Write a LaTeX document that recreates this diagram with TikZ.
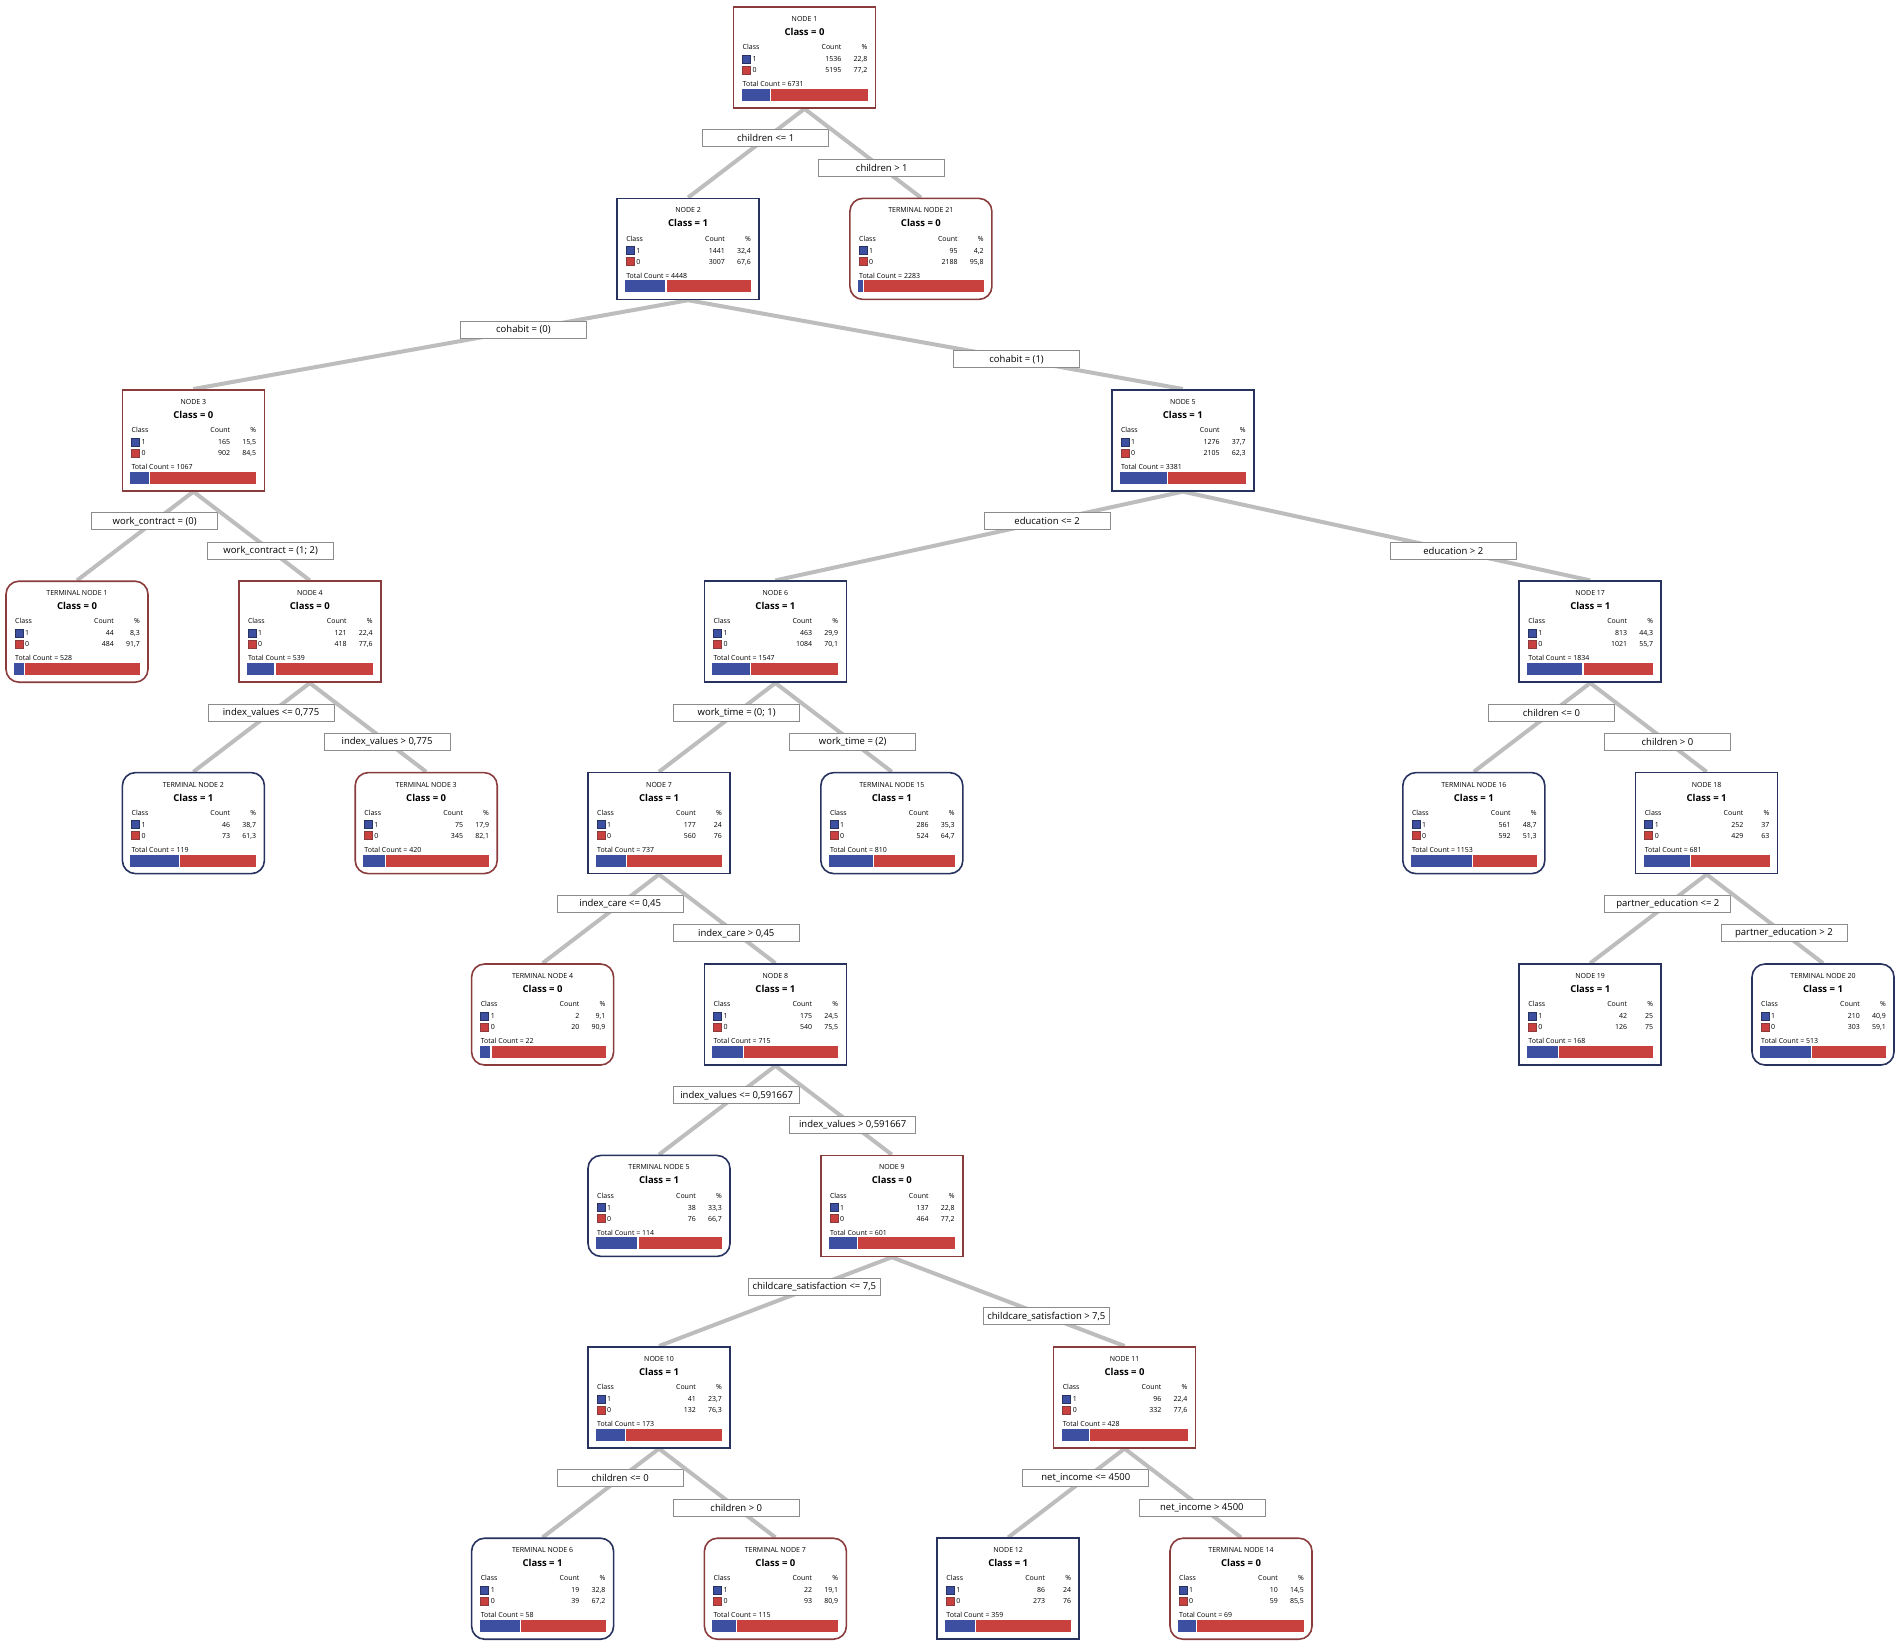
\documentclass[tikz,border=0pt]{standalone}
\usepackage{fontspec}
\setmainfont{Open Sans}
\pgfdeclarelayer{bg}
\pgfsetlayers{bg,main}
\definecolor{bluebd}{HTML}{27325E}
\definecolor{redbd}{HTML}{8A3C3C}
\definecolor{bluefill}{HTML}{3C4FA0}
\definecolor{redfill}{HTML}{C9413F}
\definecolor{edgegray}{HTML}{BDBDBD}
\definecolor{lblgray}{HTML}{8C8C8C}
\tikzset{
 box/.style={draw, line width=1.6pt, minimum width=142pt, minimum height=101pt, inner sep=0pt, fill=white},
 cls0/.style={draw=redbd},
 cls1/.style={draw=bluebd},
 term/.style={rounded corners=13pt},
 intl/.style={sharp corners},
 ttl/.style={font=\fontsize{7}{8}\selectfont, inner sep=0pt},
 clsty/.style={font=\fontsize{9.5}{10}\selectfont\bfseries, inner sep=0pt},
 sm/.style={font=\fontsize{7}{8}\selectfont, inner sep=0pt},
 lbl/.style={draw=lblgray, fill=white, line width=0.8pt, minimum width=126pt, minimum height=17pt, inner xsep=4pt, inner ysep=1pt, font=\fontsize{9.5}{10}\selectfont, text=black},
 edge/.style={draw=edgegray, line width=4pt},
 sq1/.style={fill=bluefill, draw=bluebd, line width=0.4pt},
 sq0/.style={fill=redfill, draw=redbd, line width=0.4pt},
}
\newcommand\gennode[9]{%
 \pgfmathsetmacro\xl{6+#2*116.4}%
 \pgfmathsetmacro\yt{7+#3*191.4}%
 \pgfmathtruncatemacro\tot{#6+#8}%
 \pgfmathsetmacro\bx{8+126*(#6/\tot)}%
 \node[box,cls#5,cornerst] (#1) at (\xl+71,\yt+50.5) {};
 \node[ttl] (#1-ti) at (\xl+71,\yt+12) {#4};
 \node[clsty] (#1-cl) at (\xl+71,\yt+25) {Class = #5};
 \node[sm,anchor=mid west] (#1-h1) at (\xl+9,\yt+40) {Class};
 \node[sm,anchor=mid east] (#1-h2) at (\xl+108,\yt+40) {Count};
 \node[sm,anchor=mid east] (#1-h3) at (\xl+134,\yt+40) {\%};
 \path[sq1] (\xl+9,\yt+48) rectangle (\xl+17,\yt+56);
 \node[sm,anchor=mid west] (#1-k1) at (\xl+19,\yt+52) {1};
 \node[sm,anchor=mid east] (#1-n1) at (\xl+108,\yt+52) {#6};
 \node[sm,anchor=mid east] (#1-p1) at (\xl+134,\yt+52) {#7};
 \path[sq0] (\xl+9,\yt+59) rectangle (\xl+17,\yt+67);
 \node[sm,anchor=mid west] (#1-k0) at (\xl+19,\yt+63) {0};
 \node[sm,anchor=mid east] (#1-n0) at (\xl+108,\yt+63) {#8};
 \node[sm,anchor=mid east] (#1-p0) at (\xl+134,\yt+63) {#9};
 \node[sm,anchor=mid west] (#1-to) at (\xl+9,\yt+77) {Total Count = \tot};
 \path[fill=bluefill] (\xl+8,\yt+82) rectangle (\xl+\bx-0.6,\yt+94);
 \path[fill=redfill] (\xl+\bx+0.6,\yt+82) rectangle (\xl+134,\yt+94);
}
\newcommand\InNode{\tikzset{cornerst/.style={intl}}\gennode}
\newcommand\TeNode{\tikzset{cornerst/.style={term}}\gennode}
\newcommand\conn[5]{\draw[edge] (#1.south) -- node[lbl,pos=#3] (#4) {#5} (#2.north);}
\begin{document}
\begin{tikzpicture}[x=1pt,y=-1pt]
\useasboundingbox (0,0) rectangle (1902,1649);
\InNode{n1}{6.25}{0}{NODE 1}{0}{1536}{22,8}{5195}{77,2}
\InNode{n2}{5.25}{1}{NODE 2}{1}{1441}{32,4}{3007}{67,6}
\TeNode{t21}{7.25}{1}{TERMINAL NODE 21}{0}{95}{4,2}{2188}{95,8}
\InNode{n3}{1}{2}{NODE 3}{0}{165}{15,5}{902}{84,5}
\InNode{n5}{9.5}{2}{NODE 5}{1}{1276}{37,7}{2105}{62,3}
\TeNode{t1}{0}{3}{TERMINAL NODE 1}{0}{44}{8,3}{484}{91,7}
\InNode{n4}{2}{3}{NODE 4}{0}{121}{22,4}{418}{77,6}
\InNode{n6}{6}{3}{NODE 6}{1}{463}{29,9}{1084}{70,1}
\InNode{n17}{13}{3}{NODE 17}{1}{813}{44,3}{1021}{55,7}
\TeNode{t2}{1}{4}{TERMINAL NODE 2}{1}{46}{38,7}{73}{61,3}
\TeNode{t3}{3}{4}{TERMINAL NODE 3}{0}{75}{17,9}{345}{82,1}
\InNode{n7}{5}{4}{NODE 7}{1}{177}{24}{560}{76}
\TeNode{t15}{7}{4}{TERMINAL NODE 15}{1}{286}{35,3}{524}{64,7}
\TeNode{t16}{12}{4}{TERMINAL NODE 16}{1}{561}{48,7}{592}{51,3}
\InNode{n18}{14}{4}{NODE 18}{1}{252}{37}{429}{63}
\TeNode{t4}{4}{5}{TERMINAL NODE 4}{0}{2}{9,1}{20}{90,9}
\InNode{n8}{6}{5}{NODE 8}{1}{175}{24,5}{540}{75,5}
\InNode{n19}{13}{5}{NODE 19}{1}{42}{25}{126}{75}
\TeNode{t20}{15}{5}{TERMINAL NODE 20}{1}{210}{40,9}{303}{59,1}
\TeNode{t5}{5}{6}{TERMINAL NODE 5}{1}{38}{33,3}{76}{66,7}
\InNode{n9}{7}{6}{NODE 9}{0}{137}{22,8}{464}{77,2}
\InNode{n10}{5}{7}{NODE 10}{1}{41}{23,7}{132}{76,3}
\InNode{n11}{9}{7}{NODE 11}{0}{96}{22,4}{332}{77,6}
\TeNode{t6}{4}{8}{TERMINAL NODE 6}{1}{19}{32,8}{39}{67,2}
\TeNode{t7}{6}{8}{TERMINAL NODE 7}{0}{22}{19,1}{93}{80,9}
\InNode{n12}{8}{8}{NODE 12}{1}{86}{24}{273}{76}
\TeNode{t14}{10}{8}{TERMINAL NODE 14}{0}{10}{14,5}{59}{85,5}
\begin{pgfonlayer}{bg}
\fill[white] (0,0) rectangle (1902,1649);
\conn{n1}{n2}{0.333}{l1a}{children <= 1}
\conn{n1}{t21}{0.664}{l1b}{children > 1}
\conn{n2}{n3}{0.333}{l2a}{cohabit = (0)}
\conn{n2}{n5}{0.664}{l2b}{cohabit = (1)}
\conn{n3}{t1}{0.333}{l3a}{work\_contract = (0)}
\conn{n3}{n4}{0.664}{l3b}{work\_contract = (1; 2)}
\conn{n4}{t2}{0.333}{l4a}{index\_values <= 0,775}
\conn{n4}{t3}{0.664}{l4b}{index\_values > 0,775}
\conn{n5}{n6}{0.333}{l5a}{education <= 2}
\conn{n5}{n17}{0.664}{l5b}{education > 2}
\conn{n6}{n7}{0.333}{l6a}{work\_time = (0; 1)}
\conn{n6}{t15}{0.664}{l6b}{work\_time = (2)}
\conn{n17}{t16}{0.333}{l17a}{children <= 0}
\conn{n17}{n18}{0.664}{l17b}{children > 0}
\conn{n7}{t4}{0.333}{l7a}{index\_care <= 0,45}
\conn{n7}{n8}{0.664}{l7b}{index\_care > 0,45}
\conn{n18}{n19}{0.333}{l18a}{partner\_education <= 2}
\conn{n18}{t20}{0.664}{l18b}{partner\_education > 2}
\conn{n8}{t5}{0.333}{l8a}{index\_values <= 0,591667}
\conn{n8}{n9}{0.664}{l8b}{index\_values > 0,591667}
\conn{n9}{n10}{0.333}{l9a}{childcare\_satisfaction <= 7,5}
\conn{n9}{n11}{0.664}{l9b}{childcare\_satisfaction > 7,5}
\conn{n10}{t6}{0.333}{l10a}{children <= 0}
\conn{n10}{t7}{0.664}{l10b}{children > 0}
\conn{n11}{n12}{0.333}{l11a}{net\_income <= 4500}
\conn{n11}{t14}{0.664}{l11b}{net\_income > 4500}
\end{pgfonlayer}
\end{tikzpicture}
\end{document}
